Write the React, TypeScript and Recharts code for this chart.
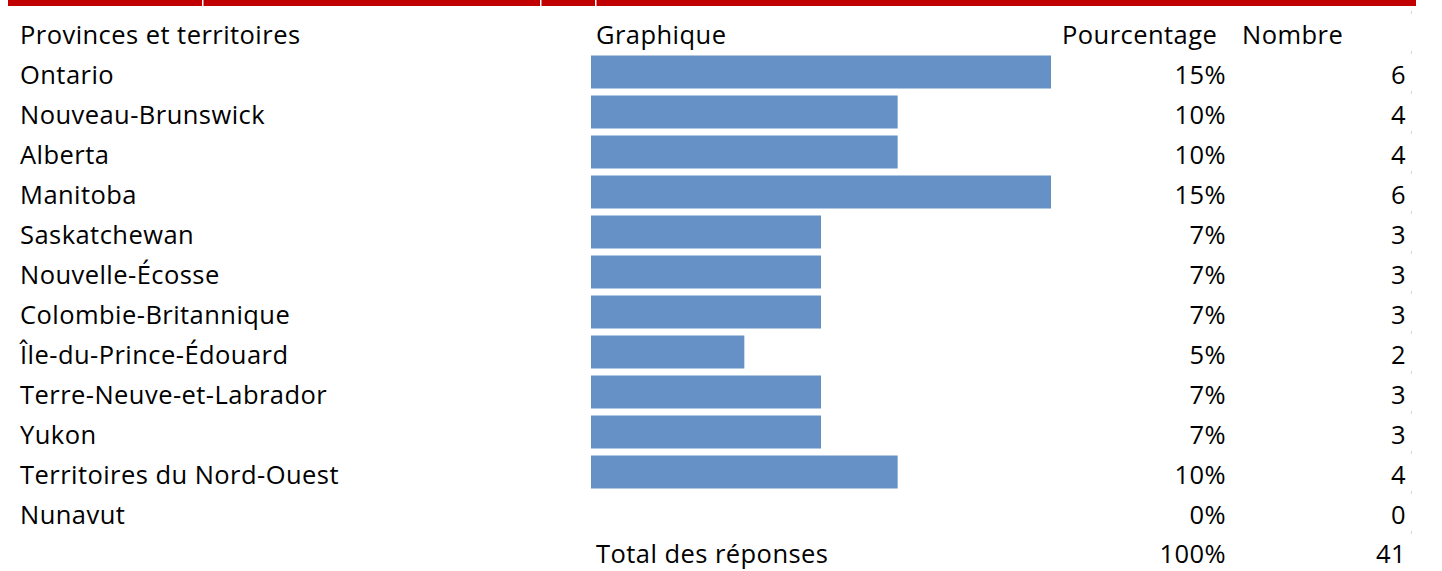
import React from "react";
import { BarChart, Bar, XAxis, YAxis } from "recharts";

const provinces = [
  "Ontario",
  "Nouveau-Brunswick",
  "Alberta",
  "Manitoba",
  "Saskatchewan",
  "Nouvelle-Écosse",
  "Colombie-Britannique",
  "Île-du-Prince-Édouard",
  "Terre-Neuve-et-Labrador",
  "Yukon",
  "Territoires du Nord-Ouest",
  "Nunavut",
];
const percentages = [15, 10, 10, 15, 7, 7, 7, 5, 7, 7, 10, 0];
const counts = [6, 4, 4, 6, 3, 3, 3, 2, 3, 3, 4, 0];
const headers = ["Provinces et territoires", "Graphique", "Pourcentage", "Nombre"];
const totalLabel = "Total des réponses";
const totalPercent = 100;
const totalCount = 41;

const data = provinces.map((name, i) => ({
  name,
  percent: percentages[i],
  count: counts[i],
}));

const FONT = "'Open Sans', sans-serif";
const FS = 25.5;
const LS = 0.45;
const BAR_COLOR = "#6591C7";

const txt = { fontFamily: FONT, fontSize: FS, fill: "#000", letterSpacing: LS } as const;

const RowTick = (props: any) => {
  const { y, payload } = props;
  const i = payload.index;
  const d = data[i];
  const by = y + 12;
  return (
    <g>
      <text x={20} y={by} {...txt} textAnchor="start">
        {d.name}
      </text>
      <text x={1226} y={by} {...txt} textAnchor="end">
        {d.percent + "%"}
      </text>
      <text x={1406} y={by} {...txt} textAnchor="end">
        {String(d.count)}
      </text>
    </g>
  );
};

const gridMarks = Array.from({ length: 14 }, (_, k) => k);

export default function App() {
  return (
    <div style={{ position: "absolute", left: 0, top: 0, width: 1442, height: 571, background: "#fff" }}>
      <BarChart
        width={1442}
        height={571}
        data={data}
        layout="vertical"
        margin={{ top: 51.5, right: 391, bottom: 39.5, left: 0 }}
        barCategoryGap={7}
      >
        <XAxis type="number" domain={[0, 6]} hide />
        <YAxis
          type="category"
          dataKey="name"
          width={591}
          axisLine={false}
          tickLine={false}
          tick={(p: any) => <RowTick {...p} />}
          interval={0}
        />
        <Bar dataKey="count" fill={BAR_COLOR} barSize={33} isAnimationActive={false} />
      </BarChart>
      <svg
        width={1442}
        height={571}
        style={{ position: "absolute", left: 0, top: 0, pointerEvents: "none" }}
      >
        <rect x={8} y={0} width={1408} height={6} fill="#C00000" />
        <rect x={202} y={0} width={1.5} height={6} fill="#fff" />
        <rect x={540} y={0} width={1.5} height={6} fill="#fff" />
        <rect x={595} y={0} width={1.5} height={6} fill="#fff" />
        {gridMarks.map((k) => (
          <rect key={k} x={1411} y={11 + 40 * k} width={1} height={3} fill="#d4d4d4" />
        ))}
        <text x={20} y={44} {...txt}>{headers[0]}</text>
        <text x={596} y={44} {...txt}>{headers[1]}</text>
        <text x={1062} y={44} {...txt}>{headers[2]}</text>
        <text x={1242} y={44} {...txt}>{headers[3]}</text>
        <text x={596} y={563} {...txt}>{totalLabel}</text>
        <text x={1226} y={563} {...txt} textAnchor="end">{totalPercent + "%"}</text>
        <text x={1406} y={563} {...txt} textAnchor="end">{String(totalCount)}</text>
      </svg>
    </div>
  );
}
